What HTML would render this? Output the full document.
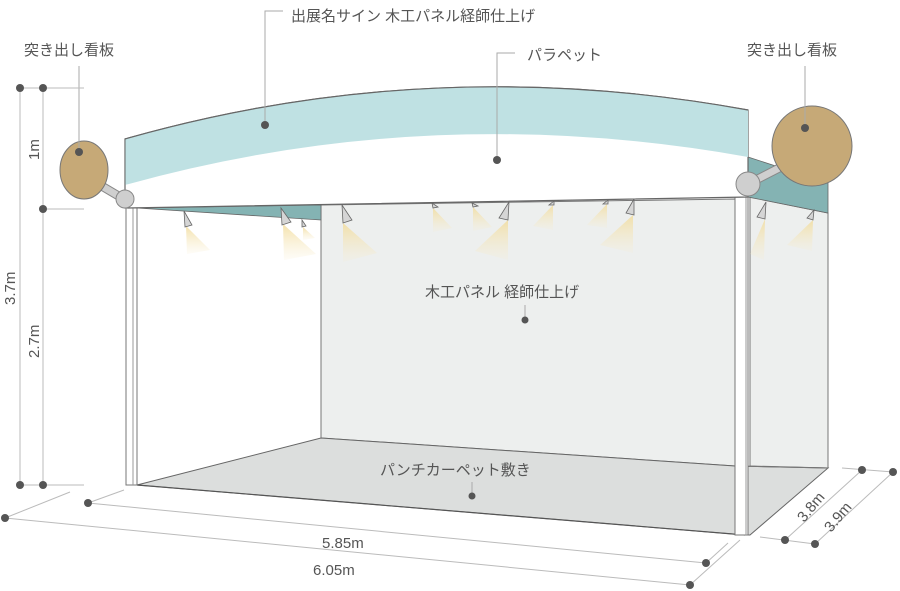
<!DOCTYPE html>
<html><head><meta charset="utf-8"><style>
html,body{margin:0;padding:0;background:#fff}
svg{display:block}
text{font-family:"Liberation Sans","Noto Sans CJK JP",sans-serif;fill:#555;font-size:15px}
</style></head><body>
<svg width="900" height="591" viewBox="0 0 900 591" xmlns="http://www.w3.org/2000/svg">
<defs>
<linearGradient id="cone" x1="0" y1="0" x2="0" y2="1">
<stop offset="0" stop-color="#f2dc9c" stop-opacity="0.85"/>
<stop offset="1" stop-color="#f7eccc" stop-opacity="0.15"/>
</linearGradient>
</defs>
<polygon points="321,205 735,199 735,466 321,438" fill="#edefee" stroke="#777" stroke-width="1"/>
<polygon points="750,197 828,213 828,468 750,466" fill="#edefee" stroke="#777" stroke-width="1"/>
<polygon points="137,485 321,438 735,466 828,468 750,535 745,535" fill="#dcdedd" stroke="#666" stroke-width="1"/>
<line x1="137" y1="485" x2="745" y2="535" stroke="#555" stroke-width="1.2"/>
<line x1="735" y1="466" x2="828" y2="468" stroke="#777"/>
<polygon points="137,208 321,205 321,220" fill="#84b3b3" stroke="#666" stroke-width="0.8"/>
<polygon points="748,157 828,183 828,213 748,197" fill="#84b3b3" stroke="#666" stroke-width="0.8"/>
<g stroke="#666" stroke-width="0.8">
<polygon points="186,226 210,250 187,254" fill="url(#cone)" stroke="none"/>
<polygon points="184,211 192,225 185,227" fill="#d5d5d5"/>
<polygon points="283,224 316,254 284,260" fill="url(#cone)" stroke="none"/>
<polygon points="281,208 291,222 282,225" fill="#d5d5d5"/>
<polygon points="303,227 315,238 303,240" fill="url(#cone)" stroke="none"/>
<polygon points="302,220 306,226 302,227" fill="#d5d5d5"/>
<polygon points="343,223 377,253 343,262" fill="url(#cone)" stroke="none"/>
<polygon points="342,205 352,220 343,223" fill="#d5d5d5"/>
<polygon points="433,208 452,228 433,232" fill="url(#cone)" stroke="none"/>
<polygon points="432,203 438,207 433,208" fill="#d5d5d5"/>
<polygon points="473,207 492,227 473,231" fill="url(#cone)" stroke="none"/>
<polygon points="472,203 478,206 473,207" fill="#d5d5d5"/>
<polygon points="508,220 475,251 508,260" fill="url(#cone)" stroke="none"/>
<polygon points="509,202 499,218 508,220" fill="#d5d5d5"/>
<polygon points="553,205 533,226 553,230" fill="url(#cone)" stroke="none"/>
<polygon points="554,201 549,205 554,205" fill="#d5d5d5"/>
<polygon points="607,204 587,225 607,228" fill="url(#cone)" stroke="none"/>
<polygon points="608,200 603,204 608,204" fill="#d5d5d5"/>
<polygon points="633,215 600,245 633,253" fill="url(#cone)" stroke="none"/>
<polygon points="634,199 626,213 634,215" fill="#d5d5d5"/>
<polygon points="765,219 750,254 764,260" fill="url(#cone)" stroke="none"/>
<polygon points="766,202 757,217 765,219" fill="#d5d5d5"/>
<polygon points="813,220 787,245 812,251" fill="url(#cone)" stroke="none"/>
<polygon points="814,210 807,218 813,220" fill="#d5d5d5"/>
</g>
<rect x="126" y="208" width="11" height="277" fill="#fff" stroke="#777"/>
<line x1="133" y1="208" x2="133" y2="485" stroke="#999"/>
<rect x="735" y="197" width="13" height="338" fill="#fff" stroke="#777"/>
<line x1="746" y1="197" x2="746" y2="535" stroke="#999"/>
<path d="M125,139 Q430,52 748,110 L748,197 Q440,203 125,208 Z" fill="#fff" stroke="#666" stroke-width="1.2"/>
<path d="M125,139 Q430,52 748,110 L748,157 Q430,100 125,185 Z" fill="#bfe1e3"/>
<path d="M125,139 Q430,52 748,110" fill="none" stroke="#666" stroke-width="1.2"/>
<line x1="125" y1="139" x2="125" y2="208" stroke="#666"/>
<line x1="100" y1="185" x2="122" y2="198" stroke="#888" stroke-width="9"/>
<line x1="100" y1="185" x2="122" y2="198" stroke="#cfcfcf" stroke-width="7"/>
<circle cx="125" cy="199" r="9" fill="#cfcfcf" stroke="#888"/>
<ellipse cx="84" cy="170" rx="24" ry="29" fill="#c6a977" stroke="#777"/>
<line x1="752" y1="182" x2="785" y2="165" stroke="#888" stroke-width="9"/>
<line x1="752" y1="182" x2="785" y2="165" stroke="#cfcfcf" stroke-width="7"/>
<circle cx="748" cy="184" r="12" fill="#cfcfcf" stroke="#888"/>
<circle cx="812" cy="146" r="40" fill="#c6a977" stroke="#777"/>
<g stroke="#aaa" stroke-width="1" fill="none">
<polyline points="283,11 265,11 265,125"/>
<polyline points="515,53 497,53 497,160"/>
<line x1="79" y1="66" x2="79" y2="152"/>
<line x1="805" y1="66" x2="805" y2="128"/>
<line x1="525" y1="305" x2="525" y2="320"/>
<line x1="472" y1="482" x2="472" y2="496"/>
</g>
<g fill="#555">
<circle cx="265" cy="125" r="4"/><circle cx="497" cy="160" r="4"/>
<circle cx="79" cy="152" r="4"/><circle cx="805" cy="128" r="4"/>
<circle cx="525" cy="320" r="3.5"/><circle cx="472" cy="496" r="3.5"/>
</g>
<text x="291" y="21">出展名サイン 木工パネル経師仕上げ</text>
<text x="527" y="60">パラペット</text>
<text x="24" y="55">突き出し看板</text>
<text x="747" y="55">突き出し看板</text>
<text x="425" y="297">木工パネル 経師仕上げ</text>
<text x="380" y="475">パンチカーペット敷き</text>
<g stroke="#bbb" stroke-width="1">
<line x1="20" y1="88" x2="20" y2="485"/>
<line x1="43" y1="88" x2="43" y2="485"/>
<line x1="20" y1="88" x2="84" y2="88"/>
<line x1="43" y1="209" x2="84" y2="209"/>
<line x1="20" y1="485" x2="84" y2="485"/>
<line x1="5" y1="518" x2="690" y2="585"/>
<line x1="88" y1="503" x2="706" y2="563"/>
<line x1="5" y1="518" x2="70" y2="492"/>
<line x1="88" y1="503" x2="124" y2="490"/>
<line x1="690" y1="585" x2="740" y2="540"/>
<line x1="706" y1="563" x2="728" y2="543"/>
<line x1="862" y1="470" x2="785" y2="540"/>
<line x1="893" y1="472" x2="815" y2="544"/>
<line x1="842" y1="468" x2="893" y2="472"/>
<line x1="760" y1="537" x2="815" y2="544"/>
</g>
<g fill="#555">
<circle cx="20" cy="88" r="4"/><circle cx="43" cy="88" r="4"/><circle cx="43" cy="209" r="4"/>
<circle cx="20" cy="485" r="4"/><circle cx="43" cy="485" r="4"/>
<circle cx="5" cy="518" r="4"/><circle cx="88" cy="503" r="4"/>
<circle cx="690" cy="585" r="4"/><circle cx="706" cy="563" r="4"/>
<circle cx="862" cy="470" r="4"/><circle cx="893" cy="472" r="4"/>
<circle cx="785" cy="540" r="4"/><circle cx="815" cy="544" r="4"/>
</g>
<text transform="translate(15,305) rotate(-90)">3.7m</text>
<text transform="translate(39,160) rotate(-90)">1m</text>
<text transform="translate(39,358) rotate(-90)">2.7m</text>
<text x="322" y="548">5.85m</text>
<text x="313" y="575">6.05m</text>
<text transform="translate(804,523) rotate(-50)">3.8m</text>
<text transform="translate(831,533) rotate(-50)">3.9m</text>
</svg>
</body></html>
